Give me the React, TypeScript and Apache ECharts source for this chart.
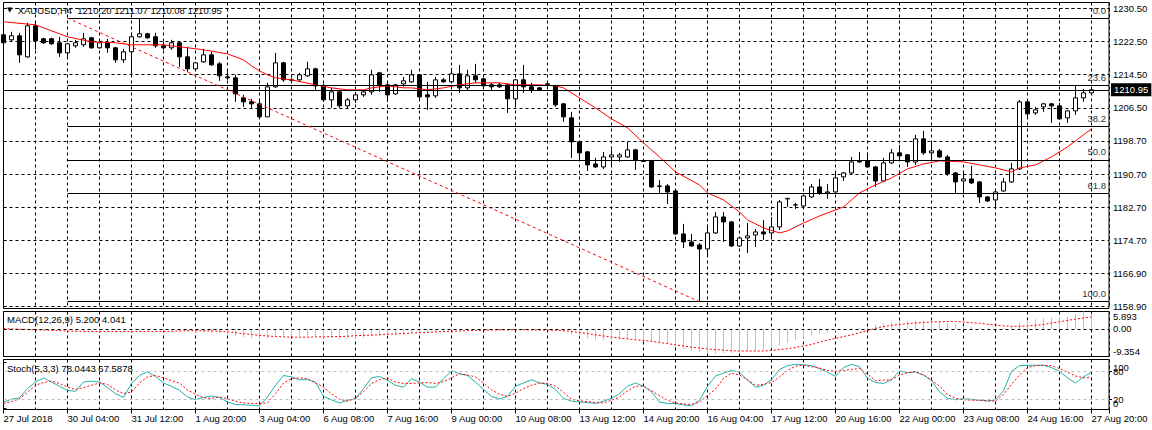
import React, { useEffect, useRef } from 'react';
import * as echarts from 'echarts';

// ---------- data (XAUUSD H4) ----------
const opens = [1224.14,1222.94,1223.90,1218.85,1226.30,1223.18,1223.18,1222.22,1219.81,1221.50,
1221.74,1223.42,1221.02,1222.22,1221.02,1218.13,1220.06,1223.66,1224.38,1223.66,
1221.50,1221.02,1222.22,1218.85,1215.97,1217.65,1219.33,1217.17,1214.05,1213.81,
1209.01,1208.05,1207.57,1204.45,1211.65,1217.41,1213.33,1213.33,1214.29,1215.97,
1211.89,1208.53,1210.45,1207.09,1208.53,1209.73,1210.45,1215.01,1212.13,1209.97,
1212.37,1212.85,1214.53,1209.73,1209.49,1213.33,1212.85,1214.77,1211.41,1214.29,
1213.57,1212.13,1212.13,1212.13,1208.77,1213.33,1211.65,1211.41,1212.37,1211.89,
1207.57,1204.21,1198.45,1196.05,1193.16,1192.44,1194.84,1194.84,1194.84,1196.53,
1193.88,1193.88,1187.88,1187.88,1186.68,1176.36,1174.44,1173.72,1172.75,1176.60,
1180.44,1179.24,1173.48,1175.40,1176.12,1176.84,1176.60,1178.04,1184.76,1183.33,
1183.08,1185.24,1187.64,1186.20,1186.44,1190.04,1191.00,1193.88,1193.88,1192.44,
1189.08,1193.40,1195.81,1195.33,1193.64,1199.17,1195.81,1196.29,1194.84,1191.00,
1189.08,1189.56,1188.84,1185.24,1184.52,1186.68,1188.84,1191.96,1208.05,1205.41,
1206.85,1207.57,1207.09,1204.21,1205.89,1209.01,1210.20];
const highs = [1224.62,1224.86,1224.62,1227.02,1227.02,1223.42,1223.42,1223.66,1222.22,1222.94,
1224.62,1223.66,1222.46,1223.18,1221.26,1220.78,1224.62,1227.98,1224.62,1224.62,
1222.46,1222.94,1222.46,1221.26,1217.65,1220.78,1220.06,1217.65,1215.49,1214.53,
1209.73,1208.77,1208.53,1212.61,1219.81,1217.65,1213.81,1215.01,1217.65,1216.21,
1212.37,1211.41,1210.93,1209.01,1210.45,1210.93,1215.73,1215.25,1212.61,1212.37,
1214.05,1215.73,1214.77,1212.85,1214.05,1213.81,1216.21,1216.93,1215.73,1217.17,
1213.81,1212.61,1212.61,1212.37,1213.57,1216.93,1212.61,1211.65,1212.61,1212.13,
1207.81,1205.65,1198.69,1196.29,1194.60,1196.05,1196.53,1195.81,1198.45,1196.77,
1194.12,1194.12,1189.32,1188.36,1186.92,1178.76,1176.36,1174.20,1178.52,1181.64,
1181.64,1179.48,1175.64,1179.00,1177.56,1179.72,1180.44,1184.52,1185.00,1183.80,
1185.72,1188.36,1189.56,1188.36,1191.00,1191.24,1194.84,1196.05,1195.81,1192.68,
1194.60,1196.77,1197.73,1195.57,1200.13,1201.09,1198.69,1196.77,1195.33,1191.24,
1191.48,1192.68,1189.08,1185.48,1187.16,1189.80,1193.40,1208.53,1208.53,1206.85,
1207.81,1207.81,1207.81,1206.13,1211.89,1211.17,1211.07];
const lows = [1221.74,1222.46,1217.41,1218.61,1220.54,1221.98,1221.74,1218.85,1218.85,1221.02,
1221.26,1220.78,1220.78,1219.81,1217.41,1217.41,1214.53,1223.42,1223.18,1221.02,
1220.54,1220.54,1216.45,1215.25,1215.73,1217.41,1216.69,1213.09,1213.33,1208.05,
1206.85,1206.61,1204.21,1204.45,1211.41,1212.85,1212.85,1213.09,1214.05,1210.93,
1208.05,1206.61,1206.61,1206.37,1207.81,1209.25,1209.73,1210.45,1208.05,1209.73,
1211.65,1212.61,1208.53,1206.13,1209.01,1212.61,1212.61,1210.21,1210.69,1212.61,
1211.41,1210.69,1211.41,1205.41,1206.85,1210.21,1210.21,1210.69,1211.65,1206.85,
1203.25,1194.60,1194.12,1191.48,1192.20,1191.96,1192.44,1193.64,1194.60,1191.72,
1193.64,1187.40,1186.20,1183.56,1176.12,1172.99,1173.24,1160.10,1171.32,1176.36,
1174.44,1173.24,1173.24,1171.80,1173.24,1174.92,1175.40,1177.32,1182.84,1182.36,
1182.84,1185.00,1185.72,1184.76,1186.20,1189.08,1190.76,1193.40,1192.20,1187.64,
1188.84,1193.16,1194.12,1192.44,1192.92,1195.33,1194.12,1194.60,1190.28,1186.20,
1186.20,1188.36,1183.80,1184.04,1182.84,1186.44,1188.60,1191.72,1204.45,1204.93,
1205.65,1203.01,1203.73,1203.01,1204.93,1208.05,1210.08];
const closes = [1222.22,1223.90,1219.33,1226.30,1222.70,1222.22,1221.98,1219.81,1221.98,1222.22,
1223.18,1221.02,1222.22,1221.02,1218.13,1220.06,1223.66,1224.38,1223.42,1221.50,
1221.02,1222.22,1218.85,1215.97,1217.41,1219.33,1216.93,1214.29,1213.81,1209.97,
1208.05,1207.57,1204.45,1211.65,1217.41,1213.33,1213.25,1214.53,1215.97,1211.89,
1208.53,1210.45,1207.09,1208.53,1209.73,1210.45,1214.53,1212.13,1209.73,1212.13,
1213.09,1214.53,1209.25,1209.25,1213.33,1212.85,1214.77,1211.41,1214.29,1213.33,
1211.89,1211.65,1211.65,1208.77,1213.33,1211.65,1210.93,1210.93,1212.25,1207.33,
1204.45,1198.45,1195.81,1192.92,1192.44,1194.84,1195.32,1195.32,1196.53,1194.12,
1193.76,1187.64,1187.76,1186.44,1176.36,1174.44,1173.48,1172.75,1176.60,1180.44,
1179.24,1173.48,1175.40,1175.88,1176.84,1176.36,1178.04,1184.04,1184.90,1183.30,
1185.48,1187.64,1186.20,1186.44,1189.80,1191.00,1193.64,1193.64,1192.44,1189.08,
1193.40,1195.81,1195.09,1193.64,1199.17,1195.81,1196.29,1194.84,1190.76,1188.84,
1189.56,1188.60,1185.24,1184.28,1186.44,1188.84,1191.96,1208.05,1205.17,1206.13,
1207.57,1207.09,1203.97,1205.89,1209.01,1210.21,1210.95];

// moving average (red line) read at selected bars
const maBars = [0,4,8,11,14,16,20,22,25,28,30,31,32,33,34,36,39,41,43,45,46,48,50,51,53,55,57,59,62,64,67,69,70,72,74,76,78,80,82,84,87,88,90,92,93,95,97,98,100,102,103,105,107,109,111,113,115,117,120,122,124,126,127,129,131,133,136];
const maValues = [1227.26,1226.54,1223.66,1222.46,1222.22,1221.74,1221.74,1221.26,1220.54,1219.57,1218.13,1216.69,1215.49,1214.53,1213.81,1213.33,1212.13,1211.41,1210.93,1210.93,1211.41,1211.89,1211.41,1211.41,1210.93,1211.41,1212.13,1212.61,1212.61,1212.13,1212.13,1211.89,1211.41,1209.01,1206.61,1203.97,1201.81,1198.21,1194.84,1191.24,1188.12,1186.20,1184.52,1181.64,1179.72,1177.80,1176.60,1177.08,1178.99,1180.68,1181.40,1182.84,1186.20,1188.12,1189.80,1191.96,1193.16,1193.88,1193.64,1192.92,1192.20,1191.24,1192.20,1192.92,1194.84,1197.25,1201.57];

// MACD(12,26,9): main (histogram) and signal
const macdMain = [-0.2,-0.3,-0.3,-0.2,-0.4,-0.5,-0.5,-0.6,-0.8,-0.9,
-0.9,-1.0,-1.0,-1.0,-1.2,-1.2,-1.0,-0.8,-0.7,-0.7,
-0.7,-0.6,-0.7,-1.0,-1.2,-1.2,-1.3,-1.6,-1.8,-2.4,
-2.8,-3.1,-3.5,-3.2,-2.6,-2.6,-2.6,-2.6,-2.5,-2.7,
-3.1,-3.2,-3.4,-3.4,-3.2,-3.0,-2.6,-2.3,-2.3,-2.0,
-1.8,-1.4,-1.4,-1.5,-1.0,-0.8,-0.4,-0.3,-0.1,0.0,
-0.2,-0.3,-0.4,-0.6,-0.5,-0.4,-0.5,-0.5,-0.5,-0.7,
-1.0,-1.8,-2.6,-3.2,-3.6,-3.7,-3.7,-3.6,-3.5,-3.6,
-3.9,-4.4,-4.8,-5.1,-6.0,-6.8,-7.4,-8.0,-8.3,-8.4,
-8.2,-8.1,-7.9,-7.6,-7.3,-7.0,-6.6,-5.6,-4.8,-3.8,
-3.0,-2.2,-1.8,-1.4,-0.8,-0.3,0.1,0.4,0.9,1.4,
1.8,2.1,2.5,2.6,2.7,2.7,2.6,2.3,2.0,1.6,
1.0,0.8,0.4,0.1,0.1,0.3,0.8,2.2,2.9,3.3,
3.6,3.9,4.0,4.2,5.1,5.893,5.2];
const macdSignal = [0.1,0.0,-0.1,-0.2,-0.3,-0.4,-0.5,-0.6,-0.7,-0.8,
-0.85,-0.9,-0.9,-0.9,-0.9,-0.9,-0.9,-0.9,-0.9,-0.9,
-0.85,-0.8,-0.7,-0.6,-0.6,-0.65,-0.7,-0.8,-1.0,-1.3,
-1.6,-1.9,-2.2,-2.4,-2.6,-2.7,-2.8,-2.8,-2.8,-2.7,
-2.7,-2.6,-2.6,-2.5,-2.3,-2.2,-2.1,-2.0,-1.8,-1.7,
-1.6,-1.4,-1.3,-1.2,-1.0,-0.9,-0.8,-0.7,-0.6,-0.5,
-0.45,-0.4,-0.35,-0.3,-0.3,-0.3,-0.35,-0.4,-0.4,-0.45,
-0.6,-0.9,-1.2,-1.6,-2.0,-2.4,-2.8,-3.1,-3.4,-3.7,
-3.9,-4.2,-4.6,-5.0,-5.4,-5.8,-6.2,-6.5,-6.8,-7.0,
-7.2,-7.4,-7.5,-7.5,-7.5,-7.5,-7.3,-7.0,-6.7,-6.3,
-5.8,-5.3,-4.5,-3.8,-3.2,-2.6,-2.0,-1.3,-0.5,0.2,
0.8,1.2,1.5,1.8,2.0,2.2,2.35,2.45,2.5,2.5,
2.3,2.1,1.9,1.6,1.3,1.0,0.9,0.9,1.0,1.2,
1.5,2.0,2.4,2.9,3.3,3.7,4.041];

// Stochastic(5,3,3): %K and %D
const stochMain = [14,20,23,43,57,66,57,48,39,37,
57,59,57,45,32,24,54,71,79,69,
55,48,39,25,19,24,27,24,14,9,
8,7,6,25,50,71,68,62,62,57,
26,19,12,18,21,43,66,69,61,50,
46,64,57,46,46,64,81,75,71,57,
41,26,21,26,48,55,62,55,52,41,
22,16,14,13,11,16,22,32,48,55,
48,36,14,11,11,8,6,18,48,70,
76,82,78,61,46,50,62,84,92,95,
94,92,86,78,69,88,95,90,65,56,
54,62,81,77,79,72,60,36,22,19,
21,20,18,16,19,38,80,92,93,93,
93,88,80,66,55,68,78.0443];
const stochSignal = [11,15,21,35,50,56,59,54,46,41,
45,50,55,52,40,32,36,55,68,71,
66,60,55,40,31,23,22,25,21,16,
12,11,11,12,32,55,64,66,64,55,
46,32,20,16,22,36,54,62,66,57,
54,54,55,56,54,58,66,75,72,68,
55,40,31,26,33,43,50,55,54,48,
35,20,17,15,13,12,18,25,38,48,
48,38,28,18,12,10,9,14,28,42,
65,76,72,62,50,52,56,68,82,91,
93,90,87,82,80,82,84,86,74,60,
61,62,72,77,79,72,62,48,30,22,
19,18,18,17,16,30,52,72,88,92,
93,92,86,78,70,66,67.5878];

// Fibonacci retracement
const fibNames = ['0.0', '23.6', '38.2', '50.0', '61.8', '100.0'];
const fibPrices = [1228.15, 1212.09, 1202.15, 1194.13, 1186.09, 1160.10];
const fibStartBar = 8;
const fibEndBar = 87;
const lastPrice = 1210.95;

// axis labels
const timeLabels = ['27 Jul 2018','30 Jul 04:00','31 Jul 12:00','1 Aug 20:00','3 Aug 04:00','6 Aug 08:00','7 Aug 16:00','9 Aug 00:00','10 Aug 08:00','13 Aug 12:00','14 Aug 20:00','16 Aug 04:00','17 Aug 12:00','20 Aug 16:00','22 Aug 00:00','23 Aug 08:00','24 Aug 16:00','27 Aug 20:00'];
const priceLabels = ['1158.90','1166.90','1174.70','1182.70','1190.70','1198.70','1206.50','1214.50','1222.50','1230.50'];
const priceMin = 1158.9;
const priceMax = 1230.5;
const macdAxisValues = [-9.354, 0, 5.893];
const stochEdgeValues = [0, 100];
const stochLevels = [20, 80];

const FONT = 'Liberation Sans';
const FS = 9.5;

export default function App() {
  const ref = useRef<HTMLDivElement>(null);
  useEffect(() => {
    document.body.style.margin = '0';
    if (!ref.current) return;
    const chart = echarts.init(ref.current, undefined, { renderer: 'svg' });
    const LEFT = 3.5;
    const WIDTH = 1105.5;
    const XMAX = WIDTH / 8;
    const step = (priceMax - priceMin) / 9;
    const dashed = { color: '#000', type: [3, 3] as any, width: 1 };
    const xBase = { type: 'value' as const, min: 0, max: XMAX };
    const splitX = (gridIndex: number) => ({
      ...xBase, gridIndex, interval: 4, position: 'bottom',
      axisLine: { show: false, onZero: false }, axisTick: { show: false }, axisLabel: { show: false },
      splitLine: { show: true, lineStyle: dashed },
    });
    const textBase = { fontFamily: FONT, fontSize: FS, fontWeight: 'normal' as const, color: '#000' };
    const frame = { show: true, borderColor: '#000', borderWidth: 1, backgroundColor: 'transparent' };
    const stochAxis = (values: number[], edge: boolean) => ({
      type: 'value', gridIndex: 4, min: 0, max: 100, position: 'right', offset: 0,
      axisLine: { show: false },
      axisTick: { show: true, length: 3, lineStyle: { color: '#000' }, customValues: values },
      axisLabel: {
        margin: 4, color: '#000', fontFamily: FONT, fontSize: FS, customValues: values,
        showMinLabel: true, showMaxLabel: true, hideOverlap: false,
        ...(edge ? { verticalAlignMinLabel: 'bottom', verticalAlignMaxLabel: 'top' } : {}),
        formatter: (v: number) => String(Math.round(v)),
      },
      splitLine: { show: false },
    });

    const candleData = closes.map((c, i) => [i, opens[i], c, lows[i], highs[i]]);
    const fibLines: any[] = fibPrices.map((p, i) => [
      {
        coord: [fibStartBar, p],
        lineStyle: { color: '#000', type: 'solid', width: 1 },
        label: { show: true, position: 'insideEndTop', formatter: fibNames[i], color: '#333', fontFamily: FONT, fontSize: FS, distance: 3 },
      },
      { coord: [XMAX, p] },
    ]);
    const diag: any = [
      { coord: [fibStartBar, fibPrices[0]], lineStyle: { color: '#ff0000', type: [3, 3], width: 1 }, label: { show: false } },
      { coord: [fibEndBar, fibPrices[fibPrices.length - 1]] },
    ];

    const option: any = {
      animation: false,
      backgroundColor: '#fff',
      textStyle: { fontFamily: FONT, fontSize: FS, color: '#000' },
      title: [
        { left: 7, top: 5, padding: 0, text: '{a|▼}  XAUUSD,H4  1210.20 1211.07 1210.08 1210.95', textStyle: { ...textBase, rich: { a: { fontSize: 7, color: '#000', fontFamily: 'DejaVu Sans' } } } },
        { left: 7, top: 314, padding: 0, text: 'MACD(12,26,9) 5.200 4.041', textStyle: textBase },
        { left: 7, top: 363, padding: 0, text: 'Stoch(5,3,3) 78.0443 67.5878', textStyle: textBase },
      ],
      grid: [
        { left: LEFT, top: 2.5, width: WIDTH, height: 306, ...frame },
        { left: LEFT, top: 8.3, width: WIDTH, height: 298.4 },
        { left: LEFT, top: 311.5, width: WIDTH, height: 45, ...frame },
        { left: LEFT, top: 359.5, width: WIDTH, height: 50, ...frame },
        { left: LEFT, top: 362, width: WIDTH, height: 46.6 },
      ],
      xAxis: [
        splitX(0),
        { ...xBase, gridIndex: 1, show: false },
        splitX(2),
        splitX(3),
        { ...xBase, gridIndex: 4, show: false },
        {
          ...xBase, gridIndex: 3, interval: 8, position: 'bottom',
          axisLine: { show: false, onZero: false },
          axisTick: { show: true, length: 4, lineStyle: { color: '#000' } },
          axisLabel: {
            show: true, align: 'left', margin: 4, color: '#000', fontFamily: FONT, fontSize: FS,
            formatter: (v: number) => (Number.isInteger(v / 8) && timeLabels[v / 8]) ? timeLabels[v / 8] : '',
          },
          splitLine: { show: false },
        },
      ],
      yAxis: [
        { type: 'value', gridIndex: 0, min: 0, max: 1, show: false },
        {
          type: 'value', gridIndex: 1, min: priceMin, max: priceMax, interval: step, position: 'right',
          axisLine: { show: false },
          axisTick: { show: true, length: 3, lineStyle: { color: '#000' } },
          axisLabel: {
            margin: 4, color: '#000', fontFamily: FONT, fontSize: FS, showMinLabel: true, showMaxLabel: true,
            formatter: (v: number) => priceLabels[Math.round((v - priceMin) / step)] ?? '',
          },
          splitLine: { show: true, lineStyle: dashed },
        },
        {
          type: 'value', gridIndex: 2, min: -9.354, max: 5.893, position: 'right',
          axisLine: { show: false },
          axisTick: { show: true, length: 3, lineStyle: { color: '#000' }, customValues: macdAxisValues },
          axisLabel: {
            margin: 4, color: '#000', fontFamily: FONT, fontSize: FS, customValues: macdAxisValues,
            showMinLabel: true, showMaxLabel: true,
            verticalAlignMinLabel: 'bottom', verticalAlignMaxLabel: 'top',
            formatter: (v: number) => (Math.abs(v) < 1e-9 ? '0.00' : v.toFixed(3)),
          },
          splitLine: { show: false },
        },
        { type: 'value', gridIndex: 3, min: 0, max: 1, show: false },
        stochAxis(stochEdgeValues, true),
        stochAxis(stochLevels, false),
      ],
      series: [
        {
          type: 'candlestick', xAxisIndex: 1, yAxisIndex: 1, data: candleData, barWidth: 4,
          itemStyle: { color: '#fff', color0: '#000', borderColor: '#000', borderColor0: '#000', borderWidth: 1 },
          z: 3,
          markLine: {
            silent: true, symbol: ['none', 'none'], animation: false,
            data: [
              ...fibLines,
              diag,
              {
                yAxis: lastPrice,
                lineStyle: { color: '#000', type: 'solid', width: 1 },
                label: { show: true, position: 'end', formatter: '1210.95', color: '#fff', backgroundColor: '#000', padding: [2, 3, 1, 3], distance: 2, fontFamily: FONT, fontSize: FS },
              },
            ],
          },
        },
        {
          type: 'line', xAxisIndex: 1, yAxisIndex: 1, data: maBars.map((b, i) => [b, maValues[i]]),
          showSymbol: false, connectNulls: true, lineStyle: { color: '#ff0000', width: 1 }, z: 4,
        },
        {
          type: 'bar', xAxisIndex: 2, yAxisIndex: 2, data: macdMain.map((v, i) => [i, v]),
          barWidth: 1, itemStyle: { color: '#c0c0c0' },
          markLine: {
            silent: true, symbol: ['none', 'none'], label: { show: false },
            lineStyle: { color: '#000', type: [3, 3], width: 1 },
            data: [{ yAxis: 0 }],
          },
        },
        {
          type: 'line', xAxisIndex: 2, yAxisIndex: 2, data: macdSignal.map((v, i) => [i, v]),
          showSymbol: false, lineStyle: { color: '#ff0000', width: 1, type: [2, 2] },
        },
        {
          type: 'line', xAxisIndex: 4, yAxisIndex: 4, data: stochMain.map((v, i) => [i, v]),
          showSymbol: false, lineStyle: { color: '#20b2aa', width: 1 },
          markLine: {
            silent: true, symbol: ['none', 'none'], label: { show: false },
            lineStyle: { color: '#c0c0c0', type: [3, 3], width: 1 },
            data: stochLevels.map((l) => ({ yAxis: l })),
          },
        },
        {
          type: 'line', xAxisIndex: 4, yAxisIndex: 4, data: stochSignal.map((v, i) => [i, v]),
          showSymbol: false, lineStyle: { color: '#ff0000', width: 1, type: [2, 2] },
        },
      ],
    };
    chart.setOption(option);
    return () => chart.dispose();
  }, []);
  return <div ref={ref} style={{ width: 1152, height: 430 }} />;
}
